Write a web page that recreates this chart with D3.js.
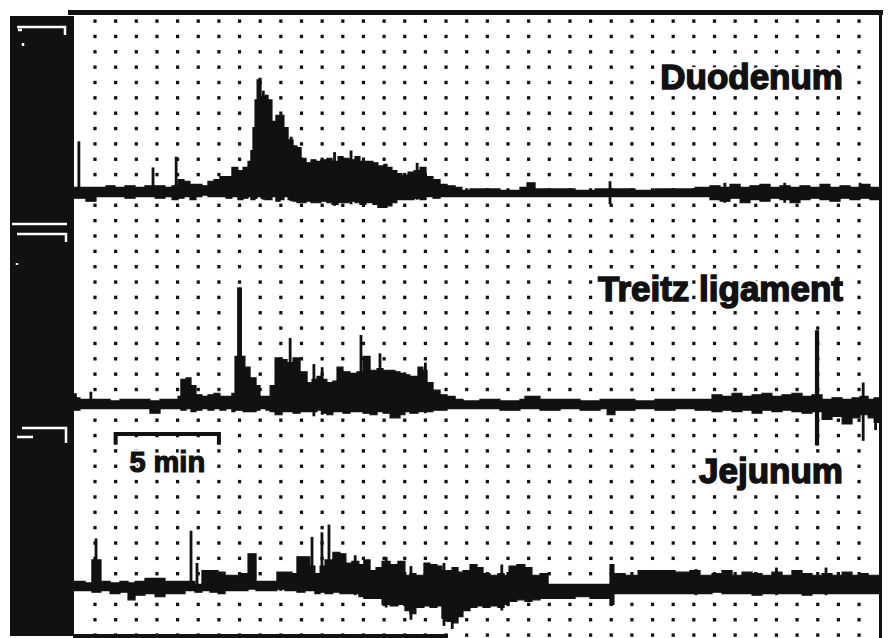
<!DOCTYPE html>
<html>
<head>
<meta charset="utf-8">
<script src="https://cdn.jsdelivr.net/npm/d3@7"></script>
<style>
body { margin: 0; background: #fff; }
svg { display: block; }
</style>
</head>
<body>
<div id="main"></div>
<script>
const width = 888;
const height = 638;

// recording channels, top to bottom
const channels = ["Duodenum", "Treitz ligament", "Jejunum"];

// Duodenum: time (min), upper / lower envelope of the pen trace (mmHg from baseline)
const duoTime = [0, 0.27, 0.56, 1.05, 1.53, 1.97, 2.45, 2.94, 3.42, 3.91, 4.39, 4.73,
    5.02, 5.31, 5.60, 5.89, 6.18, 6.47, 6.76, 7.05, 7.34, 7.63, 7.92,
    8.17, 8.41, 8.55, 8.65, 8.75, 8.85, 8.94, 9.04, 9.23, 9.38, 9.57, 9.76, 9.96,
    10.15, 10.35, 10.59, 10.78, 10.98, 11.22, 11.46, 11.70, 11.94, 12.23, 12.48, 12.77,
    13.01, 13.30, 13.59, 13.83, 14.12, 14.46, 14.70, 14.99, 15.14, 15.38, 15.62, 15.86,
    16.16, 16.45, 16.74, 17.03, 17.37, 17.71, 18.05, 18.44, 18.77, 19.16,
    19.64, 20.61, 21.58, 21.92, 22.31, 23.28, 24.25, 25.22, 26.18, 27.15, 28.12, 29.09, 30.06,
    30.78, 31.27, 31.75, 32.24, 32.72, 33.20, 33.69, 34.17, 34.66, 35.14, 35.62, 36.11, 36.59, 37.08, 37.56, 38.05, 38.53, 39.0];
const duoHigh = [3, 3, 3, 3, 4, 3, 4, 3, 4, 4, 3, 4,
    8, 7, 5, 5, 4, 7, 8, 10, 10, 16, 14,
    16, 20, 27, 42, 60, 73, 74, 62, 63, 60, 46, 50, 50,
    42, 34, 30, 29, 22, 19, 21, 20, 21, 22, 20, 23,
    22, 21, 23, 20, 20, 19, 17, 18, 16, 14, 12, 11,
    13, 14, 16, 10, 8, 5, 4, 3, 1, 2,
    2, 1, 3, 6, 2, 2, 1, 2, 2, 1, 2, 2, 3,
    4, 3, 5, 3, 4, 5, 3, 4, 3, 4, 3, 5, 3, 4, 3, 5, 3, 3];
const duoLow = [-4, -4, -6, -3, -3, -3, -4, -3, -3, -4, -3, -5,
    -4, -3, -5, -3, -2, -3, -3, -3, -4, -3, -5,
    -4, -3, -5, -5, -4, -3, -3, -4, -5, -5, -3, -6, -5,
    -3, -5, -6, -7, -7, -6, -7, -7, -6, -7, -8, -7,
    -7, -6, -7, -8, -7, -8, -10, -10, -9, -7, -5, -5,
    -5, -4, -5, -3, -4, -3, -3, -3, -3, -3,
    -3, -3, -3, -3, -3, -3, -3, -3, -3, -3, -3, -3, -3,
    -5, -6, -4, -7, -5, -6, -4, -5, -7, -5, -4, -5, -6, -4, -5, -4, -5, -4];
const duoSpikeTime = [0.22, 3.81, 4.93, 9.15, 10.5, 12.6, 13.4, 16.6, 25.94, 31.5, 34.4, 38.05];
const duoSpikeHigh = [33, 16, 23, 66, 36, 26, 27, 19, 7, 6, 6, 6];
const duoSpikeLow = [-3, -3, -3, -5, -6, -9, -8, -5, -8, -7, -7, -3];

// Treitz ligament
const treTime = [0, 0.27, 0.76, 1.24, 1.73, 2.21, 2.70, 3.18, 3.66, 4.15, 4.63,
    5.02, 5.16, 5.41, 5.65, 5.89, 6.18, 6.47, 6.76, 7.05, 7.34, 7.63,
    7.78, 8.17, 8.26, 8.51, 8.80, 8.99, 9.28, 9.48, 9.72, 10.06, 10.30, 10.59,
    10.93, 11.27, 11.51, 11.75, 11.99, 12.23, 12.52, 12.72, 13.01, 13.35, 13.69, 13.98,
    14.32, 14.66, 14.95, 15.29, 15.53, 15.77, 16.01, 16.25, 16.64, 16.88, 17.08, 17.37,
    17.71, 18.05, 18.44, 18.82,
    19.64, 20.61, 21.58, 21.82, 22.55, 23.52, 24.49, 25.46, 25.80, 26.18, 27.15, 28.12, 29.09, 30.06,
    30.88, 31.36, 31.85, 32.33, 32.82, 33.30, 33.78, 34.27, 34.75, 35.24, 35.72, 36.21, 36.69, 37.18, 37.66, 38.05, 38.44, 38.73, 39.0];
const treHigh = [4, 3, 3, 3, 2, 3, 3, 3, 2, 3, 3,
    5, 16, 17, 12, 6, 5, 6, 7, 5, 5, 7,
    31, 31, 24, 17, 12, 5, 5, 12, 30, 29, 27, 30,
    21, 14, 16, 18, 16, 14, 15, 24, 21, 20, 21, 31,
    22, 23, 22, 22, 21, 20, 19, 18, 24, 22, 14, 9,
    6, 5, 3, 2,
    3, 2, 3, 5, 3, 3, 2, 3, 3, 3, 2, 3, 3, 3,
    6, 5, 7, 5, 6, 7, 5, 6, 7, 5, 6, 3, 4, 3, 4, 5, 3, 4, 5];
const treLow = [-4, -3, -3, -3, -3, -3, -3, -3, -6, -3, -3,
    -3, -4, -3, -5, -4, -3, -4, -3, -4, -3, -5,
    -4, -5, -5, -5, -4, -3, -4, -5, -7, -5, -5, -6,
    -5, -5, -5, -4, -6, -7, -5, -5, -6, -5, -5, -6,
    -7, -5, -6, -9, -9, -7, -5, -6, -5, -5, -5, -4,
    -4, -3, -3, -3,
    -3, -4, -3, -3, -4, -3, -4, -3, -7, -4, -3, -4, -3, -4,
    -5, -4, -5, -4, -6, -4, -5, -4, -5, -6, -5, -10, -8, -13, -9, -7, -9, -12, -6];
const treSpikeTime = [0.05, 0.8, 7.95, 8.05, 10.45, 11.6, 12.0, 13.88, 14.8, 17.0, 35.93, 36.0, 38.2, 38.8];
const treSpikeHigh = [7, 8, 76, 76, 43, 26, 24, 45, 33, 27, 48, 48, 14, 3];
const treSpikeLow = [-3, -3, -4, -4, -5, -8, -7, -5, -5, -6, -27, -27, -24, -17];

// Jejunum
const jejTime = [0, 0.52, 0.85, 1.29, 1.73, 2.21, 2.60, 2.94, 3.42, 3.91, 4.39, 4.87, 5.36, 5.84,
    6.18, 6.57, 6.96, 7.30, 7.63, 8.02, 8.41, 8.80, 9.23, 9.57, 9.81, 10.20, 10.54,
    10.78, 11.17, 11.41, 11.65, 11.90, 12.14, 12.52, 12.86, 13.15, 13.44, 13.78, 14.02,
    14.32, 14.61, 14.90, 15.29, 15.67, 16.01, 16.25, 16.54, 16.93, 17.22, 17.56, 17.80,
    18.05, 18.29, 18.58, 18.82, 19.16, 19.50, 19.79, 20.13, 20.51, 20.81, 21.05, 21.43,
    21.82, 22.16, 22.55, 22.94, 23.52, 24.25, 24.97, 25.46, 25.80, 25.94, 26.13,
    26.67, 27.30, 27.88, 28.46, 29.09, 29.81, 30.30, 30.88, 31.36, 31.85, 32.33, 32.82,
    33.30, 33.78, 34.27, 34.75, 35.24, 35.72, 36.21, 36.69, 37.18, 37.66, 38.05, 38.44, 39.0];
const jejHigh = [3, 2, 17, 3, 2, 3, 2, 3, 5, 5, 3, 3, 3, 1,
    10, 10, 9, 7, 7, 8, 21, 3, 3, 3, 9, 9, 8,
    19, 19, 13, 8, 13, 17, 22, 21, 15, 16, 14, 17,
    10, 12, 16, 14, 16, 7, 8, 7, 15, 14, 13, 10,
    10, 12, 9, 10, 14, 12, 8, 7, 8, 7, 13, 14,
    12, 7, 8, 1, 1, 1, 1, 1, 1, 14, 8,
    7, 10, 10, 10, 9, 10, 7, 8, 10, 7, 9, 8,
    7, 9, 7, 10, 8, 7, 8, 7, 9, 7, 8, 7, 8];
const jejLow = [-3, -3, -4, -3, -5, -4, -9, -6, -5, -7, -5, -5, -3, -4,
    -3, -4, -5, -3, -3, -3, -2, -3, -3, -3, -2, -3, -3,
    -4, -3, -3, -5, -4, -5, -4, -5, -5, -5, -7, -8,
    -8, -8, -12, -13, -12, -16, -18, -14, -13, -14, -13, -21,
    -23, -24, -20, -16, -14, -13, -14, -13, -14, -12, -10, -9,
    -10, -9, -8, -8, -8, -7, -8, -8, -8, -12, -5,
    -5, -5, -5, -5, -5, -5, -5, -4, -5, -5, -5, -6,
    -5, -5, -5, -5, -6, -5, -5, -5, -5, -5, -5, -5, -4];
const jejSpikeTime = [1.05, 5.65, 5.94, 11.51, 11.99, 12.33, 13.6, 15.1, 16.3, 17.9, 18.3, 20.7, 30.1, 34.0, 36.4];
const jejSpikeHigh = [31, 36, 15, 32, 35, 40, 20, 19, 13, 15, -5, 14, 11, 12, 12];
const jejSpikeLow = [-3, -3, -3, -3, -4, -4, -6, -14, -22, -26, -28, -16, -6, -6, -6];

// scale bar
const scaleBarStart = 2;
const scaleBarLength = 5;
const scaleBarLabel = "5 min";

const traces = [
    { time: duoTime, high: duoHigh, low: duoLow, st: duoSpikeTime, sh: duoSpikeHigh, sl: duoSpikeLow },
    { time: treTime, high: treHigh, low: treLow, st: treSpikeTime, sh: treSpikeHigh, sl: treSpikeLow },
    { time: jejTime, high: jejHigh, low: jejLow, st: jejSpikeTime, sh: jejSpikeHigh, sl: jejSpikeLow }
];

const plotLeft = 74.35;
const plotRight = 880;
const pxPerMin = 20.65;
const baselines = [192, 404, 586];
const rowPx = 15.35; // one grid row = 10 mmHg

const x = d3.scaleLinear()
    .domain([0, 39])
    .range([plotLeft, plotLeft + 39 * pxPerMin]);

const yCh = baselines.map(b => d3.scaleLinear()
    .domain([0, 10])
    .range([b, b - rowPx]));

const gridRow = d3.scaleLinear()
    .domain([0, 40])
    .range([21, 635]);

const svg = d3.select("#main")
    .append("svg")
    .attr("width", width)
    .attr("height", height);

svg.append("rect")
    .attr("width", width)
    .attr("height", height)
    .attr("fill", "#fff");

svg.append("clipPath")
    .attr("id", "plot-clip")
    .append("rect")
    .attr("x", 73)
    .attr("y", 14)
    .attr("width", plotRight - 73)
    .attr("height", height - 14);

// dot grid: one column a minute, one row every 10 mmHg
const dots = [];
d3.range(1, 39).forEach(c => d3.range(0, 41).forEach(r => dots.push([c, r])));
svg.append("g")
    .attr("id", "grid")
    .selectAll("rect")
    .data(dots)
    .join("rect")
    .attr("x", d => x(d[0]) - 1.6)
    .attr("y", d => gridRow(d[1]) - 1.6)
    .attr("width", 3.2)
    .attr("height", 3.4)
    .attr("fill", "#111");

// traces
const plot = svg.append("g")
    .attr("clip-path", "url(#plot-clip)");

traces.forEach((tr, i) => {
    const y = yCh[i];
    const rows = tr.time.map((t, j) => ({ t: t, hi: tr.high[j], lo: tr.low[j] }));

    const area = d3.area()
        .x(d => x(d.t))
        .y0(d => y(d.lo))
        .y1(d => y(d.hi))
        .curve(d3.curveStepAfter);

    plot.append("path")
        .datum(rows)
        .attr("d", area)
        .attr("fill", "#111")
        .attr("stroke", "#111")
        .attr("stroke-width", 1.2);

    plot.append("g")
        .selectAll("rect")
        .data(tr.st.map((t, j) => ({ t: t, hi: tr.sh[j], lo: tr.sl[j] })))
        .join("rect")
        .attr("x", d => x(d.t) - 1.4)
        .attr("width", 2.8)
        .attr("y", d => y(d.hi))
        .attr("height", d => y(d.lo) - y(d.hi))
        .attr("fill", "#111");
});

// channel labels
const labels = svg.append("g")
    .attr("font-family", "'Liberation Sans', Arial, sans-serif")
    .attr("font-weight", "bold")
    .attr("font-size", 35)
    .attr("text-anchor", "end");

channels.forEach((name, i) => {
    labels.append("text")
        .attr("x", 843)
        .attr("y", yCh[i](67))
        .attr("fill", "#fff")
        .attr("stroke", "#fff")
        .attr("stroke-width", 6)
        .text(name);
    labels.append("text")
        .attr("x", 843)
        .attr("y", yCh[i](67))
        .attr("fill", "#111")
        .attr("stroke", "#111")
        .attr("stroke-width", 1.5)
        .text(name);
});

// 5 min scale bar
const yJ = yCh[2];
const bar = svg.append("g").attr("id", "scale-bar");
bar.append("path")
    .attr("d", d3.line()([
        [x(scaleBarStart), yJ(92)],
        [x(scaleBarStart), yJ(99)],
        [x(scaleBarStart + scaleBarLength), yJ(99)],
        [x(scaleBarStart + scaleBarLength), yJ(92)]
    ]))
    .attr("fill", "none")
    .attr("stroke", "#111")
    .attr("stroke-width", 4);
bar.append("text")
    .attr("x", x(scaleBarStart + scaleBarLength / 2))
    .attr("y", yJ(74))
    .attr("text-anchor", "middle")
    .attr("font-family", "'Liberation Sans', Arial, sans-serif")
    .attr("font-weight", "bold")
    .attr("font-size", 29)
    .attr("fill", "#fff")
    .attr("stroke", "#fff")
    .attr("stroke-width", 5)
    .text(scaleBarLabel);
bar.append("text")
    .attr("x", x(scaleBarStart + scaleBarLength / 2))
    .attr("y", yJ(74))
    .attr("text-anchor", "middle")
    .attr("font-family", "'Liberation Sans', Arial, sans-serif")
    .attr("font-weight", "bold")
    .attr("font-size", 29)
    .attr("fill", "#111")
    .attr("stroke", "#111")
    .attr("stroke-width", 1.2)
    .text(scaleBarLabel);

// frame: black calibration strip on the left, thin border elsewhere
const frame = svg.append("g").attr("id", "frame");
frame.append("rect").attr("x", 10).attr("y", 16).attr("width", 64).attr("height", 620).attr("fill", "#111");
frame.append("rect").attr("x", 68).attr("y", 10).attr("width", 815).attr("height", 5).attr("fill", "#111");
frame.append("rect").attr("x", 879).attr("y", 10).attr("width", 3).attr("height", 628).attr("fill", "#111");
frame.append("rect").attr("x", 73).attr("y", 634).attr("width", 375).attr("height", 4).attr("fill", "#111");

// white calibration marks in the strip
const marks = [
    "M17,27 H65 V35 M18,30 H22 M23,43 V46",
    "M12,224 H67 M17,234 H66 V242 M17,263 V265",
    "M22,428 H66 V443 M17,437 H33"
];
frame.selectAll("path.mark")
    .data(marks)
    .join("path")
    .attr("class", "mark")
    .attr("d", d => d)
    .attr("fill", "none")
    .attr("stroke", "#fff")
    .attr("stroke-width", 2.5);
</script>
</body>
</html>
